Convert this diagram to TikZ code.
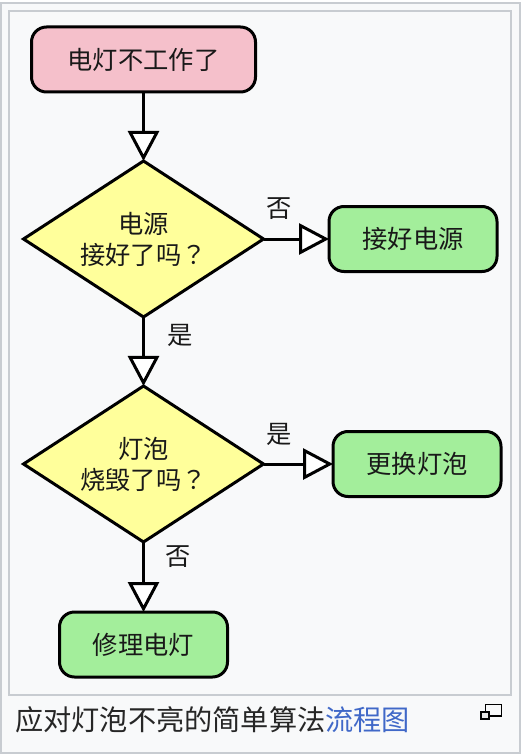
\documentclass[tikz,border=0pt]{standalone}
\usepackage{fontspec}
\setmainfont{Noto Sans CJK SC}
\newfontfamily\askmark{Noto Sans CJK TC}
\usetikzlibrary{positioning, arrows.meta, shapes.geometric}
\definecolor{frameGray}{RGB}{200, 204, 209}
\definecolor{paneBg}{RGB}{248, 249, 250}
\definecolor{startPink}{RGB}{245, 192, 203}
\definecolor{endGreen}{RGB}{163, 238, 155}
\definecolor{askYellow}{RGB}{255, 255, 155}
\definecolor{linkBlue}{RGB}{64, 104, 200}
\tikzset{
  flowtext/.style={font=\fontsize{25.3}{31}\selectfont, text=black!90},
  startbox/.style={flowtext, draw, line width=3pt, rounded corners=15pt, fill=startPink, minimum width=224pt, minimum height=65pt, inner sep=0pt, outer sep=0pt},
  endbox/.style={startbox, fill=endGreen, minimum width=168pt},
  askbox/.style={flowtext, draw, line width=3pt, diamond, aspect=1.54, fill=askYellow, minimum width=240pt, minimum height=156pt, inner sep=0pt, outer sep=0pt, align=center, text width=130pt},
  flow/.style={line width=3pt, -{Triangle[open, fill=white, length=30pt, width=31pt, line width=3pt]}},
  flowlabel/.style={flowtext, inner sep=0pt},
}
\begin{document}
\begin{tikzpicture}[x=1pt, y=-1pt]
  \useasboundingbox (0,0) rectangle (520,754);
  % frames
  \fill[paneBg] (1,3) rectangle (519.5,752.5);
  \draw[frameGray, line width=2pt] (1,3) rectangle (519.5,752.5);
  \draw[frameGray, line width=2pt] (9,11) rectangle (511,695);

  % flow
  \node[startbox] (broken) at (143.5,59.5) {电灯不工作了};
  \node[askbox] (power) at (143.5,239) {电源\\接好了吗{\askmark ？}};
  \node[endbox] (plug) at (413,239) {接好电源};
  \node[askbox] (bulb) at (143.5,464) {灯泡\\烧毁了吗{\askmark ？}};
  \node[endbox] (swap) at (417,464) {更换灯泡};
  \node[endbox] (fix) at (143.5,644.5) {修理电灯};

  \draw[flow] (broken) -- (power);
  \draw[flow] (power) -- (plug);
  \draw[flow] (power) -- (bulb);
  \draw[flow] (bulb) -- (swap);
  \draw[flow] (bulb) -- (fix);

  \node[flowlabel] (powerNo) at (279,209) {否};
  \node[flowlabel] (powerYes) at (180,335) {是};
  \node[flowlabel] (bulbYes) at (279,434) {是};
  \node[flowlabel] (bulbNo) at (178,557) {否};

  % caption
  \node[flowtext, font=\fontsize{28.2}{34}\selectfont, anchor=west, inner sep=0pt, text=black!85] (caption) at (15,720) {应对灯泡不亮的简单算法\textcolor{linkBlue}{流程图}};
  \draw[line width=1.2pt] (485.5,704.5) rectangle (501.5,716);
  \draw[line width=1.2pt, fill=black!10] (481,712) rectangle (489,719);
\end{tikzpicture}
\end{document}
